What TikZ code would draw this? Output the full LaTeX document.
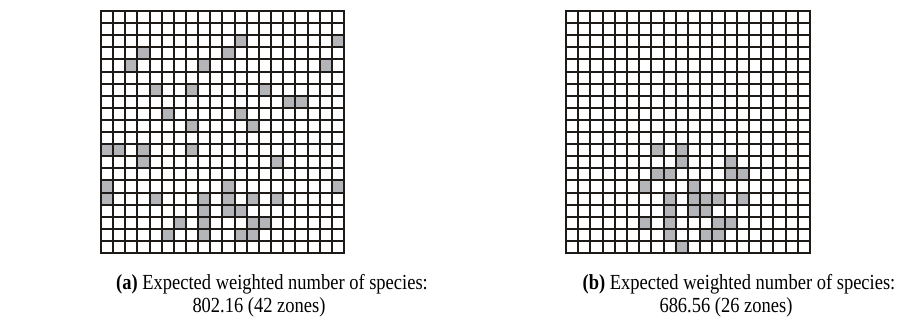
\documentclass[tikz,border=0pt]{standalone}
\usepackage{fontspec}
\setmainfont{Liberation Serif}[FakeStretch=0.86]
\definecolor{cellgray}{RGB}{180,181,184}
\definecolor{gridline}{RGB}{30,26,24}
\begin{document}
\begin{tikzpicture}[x=1pt,y=-1pt,
  gridln/.style={draw=gridline,line width=2.2pt,line cap=rect},
  capt/.style={anchor=base,inner sep=0pt,font=\fontsize{21.5}{24}\selectfont}]
\useasboundingbox (0,0) rectangle (911,324);
\def\ay{11}\def\as{12.1}
% ---- grid (a)
\def\ax{101}\def\aw{12.15}
\foreach \c/\r in {11/2,19/2,3/3,10/3,2/4,8/4,18/4,4/6,7/6,13/6,15/7,16/7,5/8,11/8,7/9,12/9,
  0/11,1/11,3/11,7/11,3/12,14/12,0/14,10/14,19/14,0/15,4/15,8/15,10/15,12/15,14/15,
  8/16,10/16,11/16,6/17,8/17,12/17,13/17,5/18,8/18,11/18,12/18}{
  \pgfmathsetmacro\xa{round(\ax+\c*\aw)}\pgfmathsetmacro\xb{round(\ax+(\c+1)*\aw)}
  \pgfmathsetmacro\ya{round(\ay+\r*\as)}\pgfmathsetmacro\yb{round(\ay+(\r+1)*\as)}
  \fill[cellgray] (\xa,\ya) rectangle (\xb,\yb);}
\pgfmathsetmacro\xe{round(\ax+20*\aw)}\pgfmathsetmacro\ye{round(\ay+20*\as)}
\foreach \i in {0,...,20}{
  \pgfmathsetmacro\xx{round(\ax+\i*\aw)}\pgfmathsetmacro\yy{round(\ay+\i*\as)}
  \draw[gridln] (\xx,\ay) -- (\xx,\ye);
  \draw[gridln] (\ax,\yy) -- (\xe,\yy);
}
% ---- grid (b)
\def\bx{566}\def\bw{12.2}
\foreach \c/\r in {7/11,9/11,9/12,13/12,7/13,8/13,13/13,14/13,6/14,10/14,
  8/15,10/15,11/15,12/15,14/15,8/16,10/16,11/16,6/17,8/17,12/17,13/17,8/18,11/18,12/18,9/19}{
  \pgfmathsetmacro\xa{round(\bx+\c*\bw)}\pgfmathsetmacro\xb{round(\bx+(\c+1)*\bw)}
  \pgfmathsetmacro\ya{round(\ay+\r*\as)}\pgfmathsetmacro\yb{round(\ay+(\r+1)*\as)}
  \fill[cellgray] (\xa,\ya) rectangle (\xb,\yb);}
\pgfmathsetmacro\xf{round(\bx+20*\bw)}
\foreach \i in {0,...,20}{
  \pgfmathsetmacro\xx{round(\bx+\i*\bw)}\pgfmathsetmacro\yy{round(\ay+\i*\as)}
  \draw[gridln] (\xx,\ay) -- (\xx,\ye);
  \draw[gridln] (\bx,\yy) -- (\xf,\yy);
}
% ---- captions
\node[capt] (ca1) at (272,289) {\textbf{(a)} Expected weighted number of species:};
\node[capt] (ca2) at (259,312) {802.16 (42 zones)};
\node[capt] (cb1) at (739,289) {\textbf{(b)} Expected weighted number of species:};
\node[capt] (cb2) at (726,312) {686.56 (26 zones)};
\end{tikzpicture}
\end{document}
